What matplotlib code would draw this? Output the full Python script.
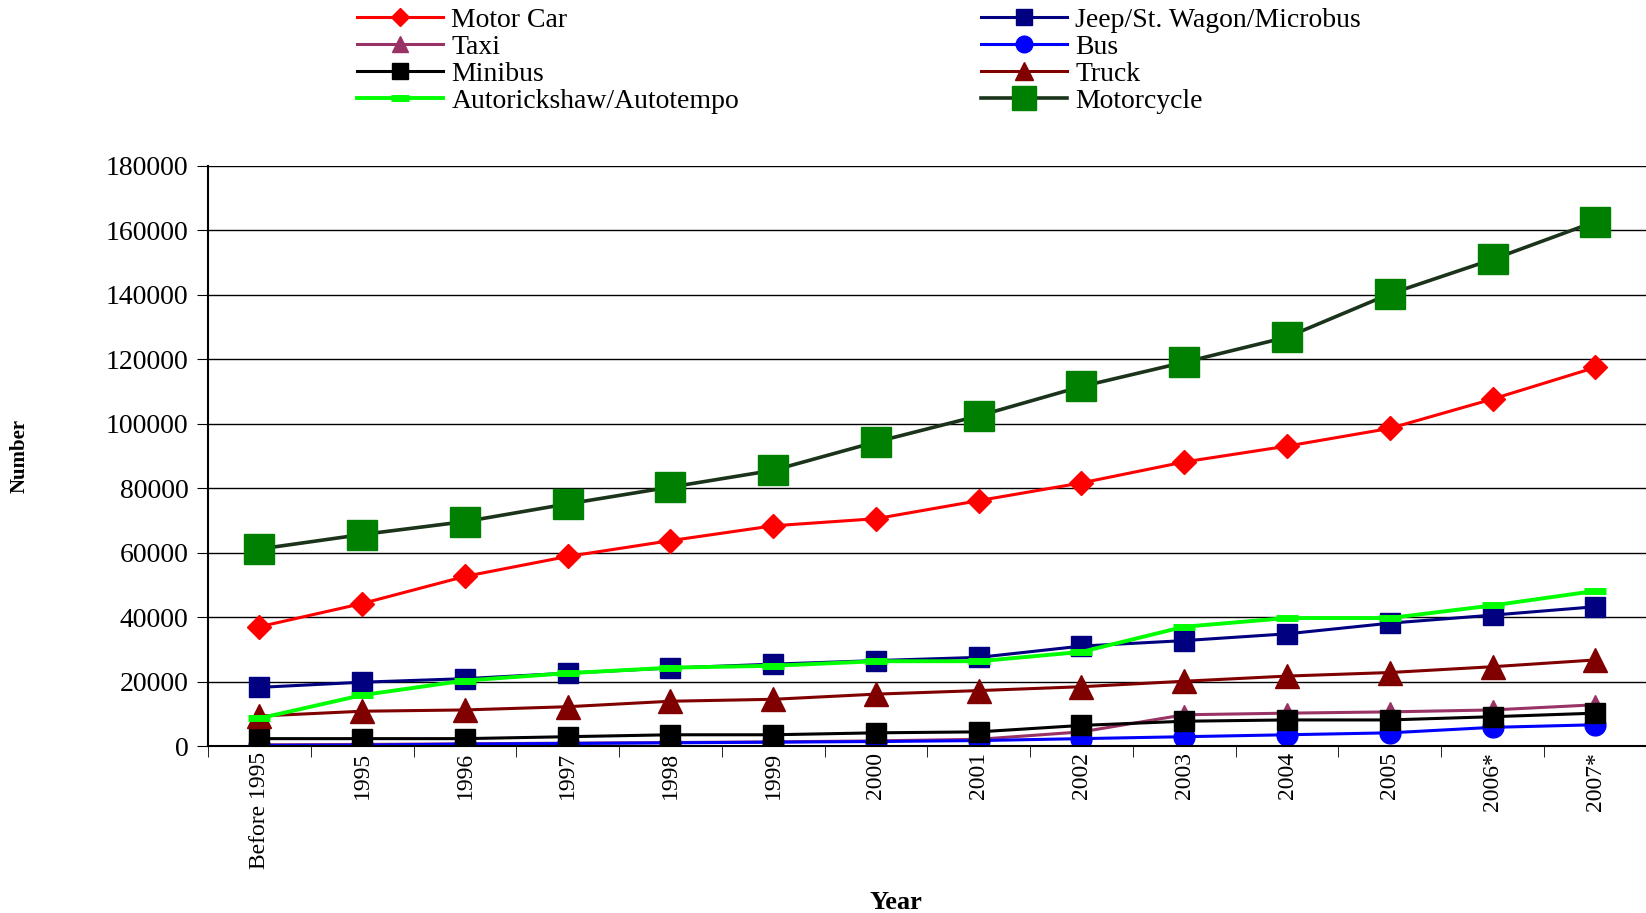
import matplotlib
matplotlib.use('Agg')
from matplotlib import pyplot as plt
import numpy as np

plt.rcParams['font.family'] = ['Liberation Serif', 'DejaVu Serif']

# Kategoriler
years = ['Before 1995', '1995', '1996', '1997', '1998', '1999', '2000',
         '2001', '2002', '2003', '2004', '2005', '2006*', '2007*']

# Seriler
motor_car = [37100, 44300, 52700, 58900, 63800, 68400, 70600,
             76200, 81700, 88200, 93100, 98600, 107700, 117500]
jeep = [18300, 19900, 21000, 22700, 24300, 25500, 26600,
        27600, 31100, 32800, 34900, 38200, 40700, 43300]
taxi = [500, 600, 800, 1000, 1200, 1400, 1700,
        2200, 4500, 9800, 10300, 10700, 11300, 12900]
bus = [300, 400, 700, 900, 1100, 1300, 1500,
       1800, 2400, 3000, 3600, 4200, 5900, 6700]
minibus = [2400, 2400, 2400, 3000, 3600, 3600, 4200,
           4500, 6500, 7800, 8200, 8200, 9200, 10300]
truck = [9400, 10900, 11300, 12300, 14000, 14600, 16200,
         17300, 18500, 20200, 21800, 22900, 24700, 26800]
auto = [8700, 15900, 20400, 22700, 24400, 25000, 26400,
        26400, 29300, 37100, 39800, 39800, 43700, 48200]
motorcycle = [61200, 65700, 69700, 75200, 80400, 85600, 94400,
              102500, 111600, 119100, 126900, 140300, 151000, 162700]

fig = plt.figure(figsize=(16.46, 9.13), dpi=100)
ax = fig.add_axes([0.1264, 0.1825, 0.874, 0.6358])

x = np.arange(len(years))
lw = 2.2

h_car, = ax.plot(x, motor_car, color='#FF0000', lw=lw, marker='D', ms=12, label='Motor Car')
h_jeep, = ax.plot(x, jeep, color='#000080', lw=lw, marker='s', ms=14, label='Jeep/St. Wagon/Microbus')
h_taxi, = ax.plot(x, taxi, color='#993366', lw=lw, marker='^', ms=15, label='Taxi')
h_bus, = ax.plot(x, bus, color='#0000FF', lw=lw, marker='o', ms=15, label='Bus')
h_mini, = ax.plot(x, minibus, color='#000000', lw=lw, marker='s', ms=15, label='Minibus')
h_truck, = ax.plot(x, truck, color='#800000', lw=lw, marker='^', ms=17, label='Truck')
h_auto, = ax.plot(x, auto, color='#00FF00', lw=lw + 0.6, marker='_', ms=16, mew=5,
                  label='Autorickshaw/Autotempo')
h_moto, = ax.plot(x, motorcycle, color='#1A331A', lw=lw + 0.4, marker='s', ms=22,
                  mfc='#008000', mec='#008000', label='Motorcycle')

ax.set_xlim(-0.5, len(years) - 0.5)
ax.set_ylim(0, 180000)
ax.set_yticks(np.arange(0, 180001, 20000))
ax.yaxis.grid(True, color='black', lw=1)
ax.set_axisbelow(True)

ax.set_xticks(x)
ax.set_xticklabels(years, rotation=90, fontsize=17)
ax.set_xticks(np.arange(-0.5, len(years), 1), minor=True)
ax.tick_params(axis='x', which='major', length=0, pad=4)
ax.tick_params(axis='x', which='minor', length=8, direction='out')
ax.tick_params(axis='y', length=8, direction='out', labelsize=20, pad=6)

for s in ['top', 'right']:
    ax.spines[s].set_visible(False)
ax.spines['left'].set_linewidth(1.5)
ax.spines['bottom'].set_linewidth(1.5)

ax.set_ylabel('Number', fontsize=15, fontweight='bold', labelpad=55)
ax.set_xlabel('Year', fontsize=19, fontweight='bold')
ax.xaxis.set_label_coords(0.478, -0.25)

handles = [h_car, h_taxi, h_mini, h_auto, h_jeep, h_bus, h_truck, h_moto]
fig.legend(handles=handles, labels=[h.get_label() for h in handles], ncol=2,
           loc='upper left', bbox_to_anchor=(0.205, 1.013), frameon=False,
           fontsize=20, handlelength=3.1, handletextpad=0.3, labelspacing=0.05,
           columnspacing=8.7, borderpad=0.2, markerscale=0.8)

fig.savefig('out.png', dpi=100)
